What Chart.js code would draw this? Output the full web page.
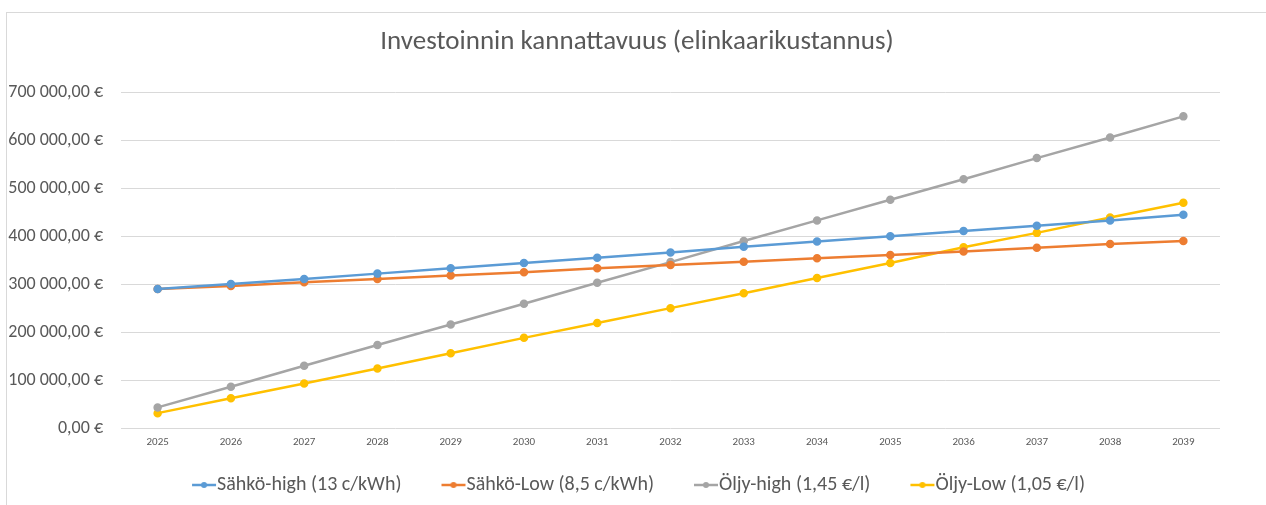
<!DOCTYPE html>
<html>
<head>
<meta charset="utf-8">
<script src="https://cdn.jsdelivr.net/npm/chart.js@4.4.1/dist/chart.umd.min.js"></script>
<style>
    html, body { margin: 0; padding: 0; background: #fff; }
    .frame { position: absolute; left: 6px; top: 12px; width: 1300px; height: 520px;
             border-top: 1px solid #d9d9d9; border-left: 1px solid #d9d9d9; }
    .wrap { position: absolute; left: 0; top: 0; width: 1266px; height: 505px; }
</style>
</head>
<body>
<div class="frame"></div>
<div class="wrap"><canvas id="kustannusChart" width="1266" height="505"></canvas></div>
<script>
// Data luettu kuvasta
const vuodet = ['2025', '2026', '2027', '2028', '2029', '2030', '2031', '2032', '2033', '2034', '2035', '2036', '2037', '2038', '2039'];
const sahkoHigh = [290000, 300500, 311000, 322000, 333000, 344000, 355000, 366000, 378000, 389000, 400000, 411000, 422000, 433000, 445000];
const sahkoLow = [290000, 296000, 304000, 311000, 318000, 325000, 333000, 340000, 347000, 354000, 361000, 368000, 376000, 384000, 390000];
const oljyHigh = [43000, 86000, 130000, 173000, 216000, 259000, 303000, 346000, 390000, 433000, 476000, 519000, 563000, 606000, 650000];
const oljyLow = [31000, 62000, 93000, 124000, 156000, 188000, 219000, 250000, 281000, 313000, 344000, 377000, 407000, 439000, 470000];
const sarjaNimet = ['Sähkö-high (13 c/kWh)', 'Sähkö-Low (8,5 c/kWh)', 'Öljy-high (1,45 €/l)', 'Öljy-Low (1,05 €/l)'];
const yTicks = [0, 100000, 200000, 300000, 400000, 500000, 600000, 700000];

const varit = ['#5B9BD5', '#ED7D31', '#A5A5A5', '#FFC000'];
const fontti = "Carlito, Calibri, 'Open Sans', sans-serif";
const tekstiVari = '#595959';

// Euro-muotoilu: 700 000,00 €
function euro(v) {
    const s = Math.round(v).toString().replace(/\B(?=(\d{3})+(?!\d))/g, ' ');
    return s + ',00 €';
}

// Selitteen merkki: viiva + pallo (piirretaan kuvan oikeaan reunaan)
function legendMarker(color) {
    const c = document.createElement('canvas');
    c.width = 62; c.height = 10;
    const g = c.getContext('2d');
    g.strokeStyle = color;
    g.lineWidth = 2.5;
    g.beginPath(); g.moveTo(30, 5); g.lineTo(54, 5); g.stroke();
    g.fillStyle = color;
    g.beginPath(); g.arc(42, 5, 3, 0, Math.PI * 2); g.fill();
    return c;
}

function sarja(i, data) {
    return {
        label: sarjaNimet[i],
        data: data,
        borderColor: varit[i],
        backgroundColor: varit[i],
        borderWidth: 2.5,
        pointRadius: 3,
        pointHoverRadius: 4,
        pointBackgroundColor: varit[i],
        pointBorderColor: varit[i],
        tension: 0
    };
}

// Otsikko ja selite keskitetaan koko kuvan mukaan, ei piirtoalueen
const keskitys = {
    id: 'keskitys',
    afterLayout(chart) {
        if (chart.titleBlock) { chart.titleBlock.left += 24; chart.titleBlock.right += 24; }
        if (chart.legend) { chart.legend.left += 19; chart.legend.right += 19; }
    }
};

const ctx = document.getElementById('kustannusChart').getContext('2d');
const chart = new Chart(ctx, {
    type: 'line',
    data: {
        labels: vuodet,
        datasets: [sarja(0, sahkoHigh), sarja(1, sahkoLow), sarja(2, oljyHigh), sarja(3, oljyLow)]
    },
    plugins: [keskitys],
    options: {
        responsive: false,
        animation: false,
        layout: { padding: { top: 20, left: 6, right: 46, bottom: 0 } },
        plugins: {
            title: {
                display: true,
                text: 'Investoinnin kannattavuus (elinkaarikustannus)',
                color: tekstiVari,
                font: { family: fontti, size: 27, weight: 'normal' },
                padding: { top: 6, bottom: 34 }
            },
            legend: {
                position: 'bottom',
                labels: {
                    color: tekstiVari,
                    font: { family: fontti, size: 20 },
                    usePointStyle: true,
                    pointStyleWidth: 28,
                    padding: 27,
                    generateLabels: (ch) => ch.data.datasets.map((ds, i) => ({
                        text: ds.label,
                        fillStyle: varit[i],
                        strokeStyle: varit[i],
                        fontColor: tekstiVari,
                        pointStyle: legendMarker(varit[i]),
                        lineWidth: 0,
                        hidden: false,
                        datasetIndex: i
                    }))
                }
            },
            tooltip: { enabled: false }
        },
        scales: {
            x: {
                offset: true,
                grid: { display: false, drawTicks: false },
                border: { display: false },
                ticks: { color: tekstiVari, font: { family: fontti, size: 11 }, padding: 8, maxRotation: 0 },
                afterFit: (s) => { s.height = 20; }
            },
            y: {
                min: 0,
                max: 700000,
                afterBuildTicks: (s) => { s.ticks = yTicks.map(v => ({ value: v })); },
                grid: { color: '#d9d9d9', lineWidth: 1, drawTicks: false },
                border: { display: false },
                ticks: {
                    color: tekstiVari,
                    font: { family: fontti, size: 18 },
                    padding: 18,
                    callback: (v) => euro(v)
                },
                afterFit: (s) => { s.width = 115; }
            }
        }
    }
});
</script>
</body>
</html>
